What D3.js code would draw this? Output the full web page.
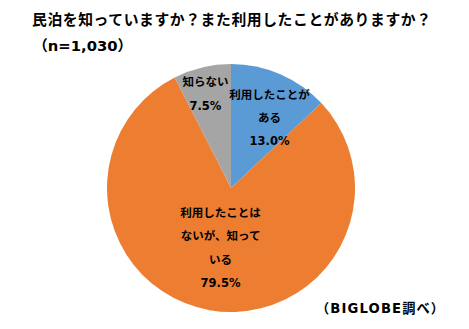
<!DOCTYPE html>
<html>
<head>
<meta charset="utf-8">
<script src="https://cdn.jsdelivr.net/npm/d3@7"></script>
<style>
  html, body { margin: 0; padding: 0; background: #fff; }
  svg { display: block; }
  text { font-family: "DejaVu Sans", "Noto Sans CJK JP", sans-serif; fill: #000; }
</style>
</head>
<body>
<svg id="chart" width="469" height="329"></svg>
<script>
const titleText = "民泊を知っていますか？また利用したことがありますか？";
const subtitleText = "（n=1,030）";
const sourceText = "（BIGLOBE調べ）";
const categories = ["利用したことがある", "利用したことはないが、知っている", "知らない"];
const values = [13.0, 79.5, 7.5];
const labelLines = [
  ["利用したことが", "ある", "13.0%"],
  ["利用したことは", "ないが、知って", "いる", "79.5%"],
  ["知らない", "7.5%"]
];
const colors = ["#5B9BD5", "#ED7D31", "#A5A5A5"];

const svg = d3.select("#chart");
const cx = 231, cy = 188, R = 124;

svg.append("text").attr("x", 32).attr("y", 25)
  .attr("textLength", 399).attr("lengthAdjust", "spacing")
  .style("font-size", "14.8px").style("font-weight", "bold").text(titleText);
svg.append("text").attr("x", 33).attr("y", 51)
  .style("font-size", "14.8px").style("font-weight", "bold").text(subtitleText);
svg.append("text").attr("x", 316).attr("y", 313)
  .attr("textLength", 128).attr("lengthAdjust", "spacing")
  .style("font-size", "13.2px").style("font-weight", "bold").text(sourceText);

const pie = d3.pie().sort(null).value(d => d);
const arcs = pie(values);
const arc = d3.arc().innerRadius(0).outerRadius(R);

const g = svg.append("g").attr("transform", `translate(${cx},${cy})`);
g.selectAll("path").data(arcs).join("path")
  .attr("d", arc)
  .attr("fill", (d, i) => colors[i]);

// label placement (styling config)
const labelRadius = [0.66, 0.49, 0.78];
const labelShift = [[6, 5], [0, 0], [-3, 0]];
const lineH = 23.3;

arcs.forEach((d, i) => {
  const la = d3.arc().innerRadius(R * labelRadius[i]).outerRadius(R * labelRadius[i]);
  const [x, y] = la.centroid(d);
  const lines = labelLines[i];
  const x0 = x + labelShift[i][0];
  const y0 = y + labelShift[i][1] - (lines.length - 1) * lineH / 2;
  const t = g.append("text").attr("text-anchor", "middle")
    .style("font-size", "11.5px").style("font-weight", "bold");
  lines.forEach((ln, j) => {
    t.append("tspan").attr("x", x0).attr("y", y0 + j * lineH).attr("dy", "0.36em").text(ln);
  });
});
</script>
</body>
</html>
